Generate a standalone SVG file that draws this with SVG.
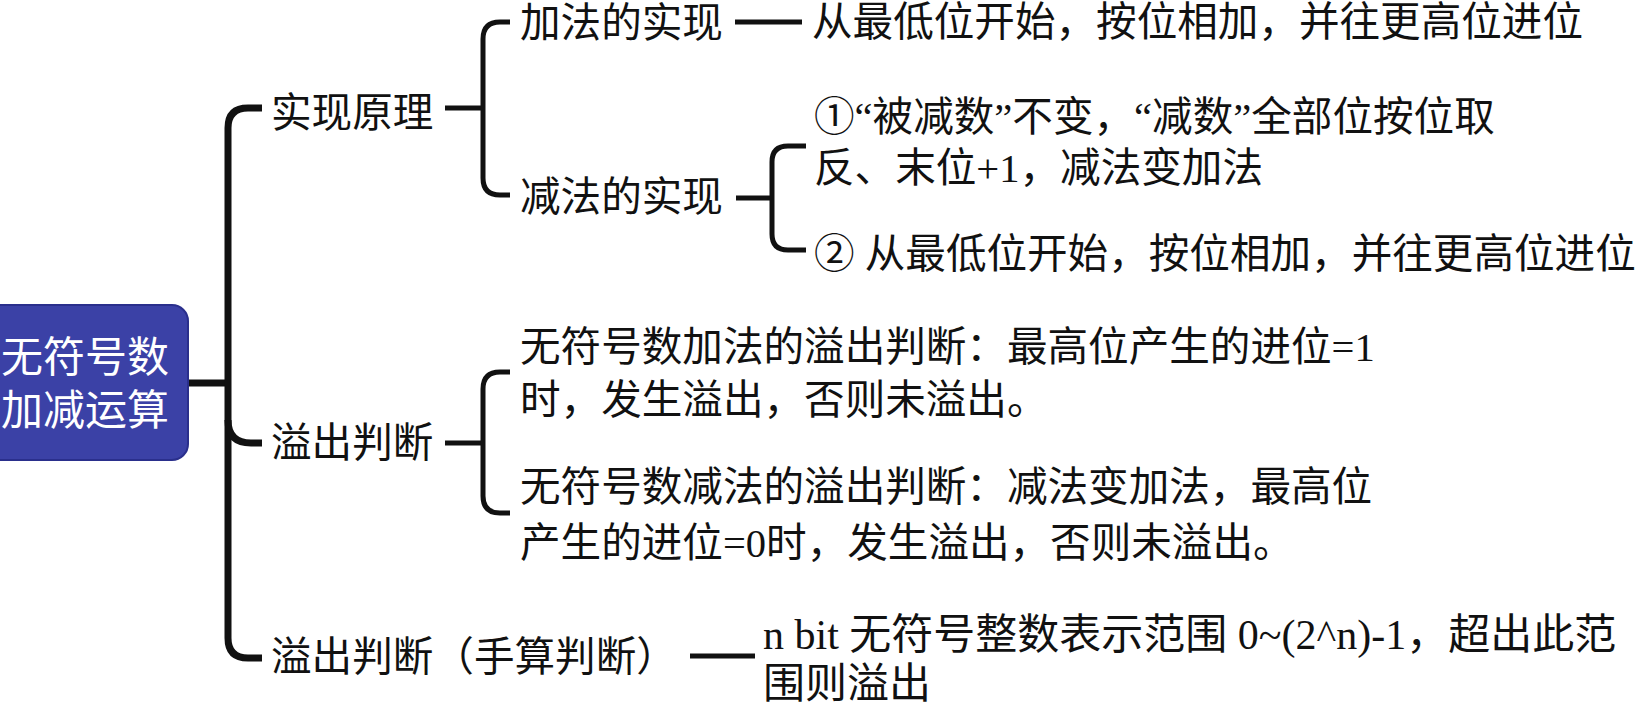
<svg xmlns="http://www.w3.org/2000/svg" width="1636" height="706" viewBox="0 0 1636 706">
<style>
text{font-family:"Liberation Serif","Noto Sans CJK SC",sans-serif;font-size:40.6px;fill:#111}
.root{fill:#fff;text-anchor:middle;font-size:42px}
.big{font-size:42px}
.trunk{fill:none;stroke:#111;stroke-width:7;stroke-linecap:butt}
.br{fill:none;stroke:#111;stroke-width:5}
</style>
<rect width="1636" height="706" fill="#fff"/>
<g id="connectors">
<path class="trunk" d="M188,383 L228,383"/>
<path class="trunk" d="M228,400 L228,128 Q228,108 248,108 L262,108"/>
<path class="trunk" d="M228,400 L228,638 Q228,658 248,658 L262,658"/>
<path class="trunk" d="M228,420 Q228,443 251,443 L262,443"/>
<path class="br" d="M445,108 L483,108"/>
<path class="br" d="M510,22 L500,22 Q483,22 483,39 L483,178 Q483,195 500,195 L510,195"/>
<path class="br" d="M735,22 L802,22"/>
<path class="br" d="M736,198 L772,198"/>
<path class="br" d="M806,146 L788,146 Q772,146 772,162 L772,234 Q772,250 788,250 L806,250"/>
<path class="br" d="M445,443 L483,443"/>
<path class="br" d="M510,372 L500,372 Q483,372 483,389 L483,496 Q483,513 500,513 L510,513"/>
<path class="br" d="M690,656 L755,656"/>
</g>
<g id="root">
<rect x="-20" y="305" width="208" height="155" rx="16" fill="#3b41a6" stroke="#2a2f8c" stroke-width="2"/>
<text class="root" x="85" y="372">无符号数</text>
<text class="root" x="85" y="425">加减运算</text>
</g>
<g id="n-principle"><text x="271" y="127">实现原理</text></g>
<g id="n-add"><text x="520" y="37">加法的实现</text></g>
<g id="n-add-desc"><text x="812" y="36">从最低位开始，按位相加，并往更高位进位</text></g>
<g id="n-sub"><text x="520" y="211">减法的实现</text></g>
<g id="n-sub-1"><text x="814" y="131">①“被减数”不变，“减数”全部位按位取</text><text x="814" y="182">反、末位+1，减法变加法</text></g>
<g id="n-sub-2"><text x="814" y="268">② 从最低位开始，按位相加，并往更高位进位</text></g>
<g id="n-overflow"><text x="271" y="457">溢出判断</text></g>
<g id="n-ov-add"><text x="520" y="361">无符号数加法的溢出判断：最高位产生的进位=1</text><text x="520" y="414">时，发生溢出，否则未溢出。</text></g>
<g id="n-ov-sub"><text x="520" y="501">无符号数减法的溢出判断：减法变加法，最高位</text><text x="520" y="557">产生的进位=0时，发生溢出，否则未溢出。</text></g>
<g id="n-manual"><text x="271" y="671">溢出判断（手算判断）</text></g>
<g id="n-manual-desc"><text class="big" x="763" y="649">n bit 无符号整数表示范围 0~(2^n)-1，超出此范</text><text class="big" x="763" y="698">围则溢出</text></g>
</svg>
